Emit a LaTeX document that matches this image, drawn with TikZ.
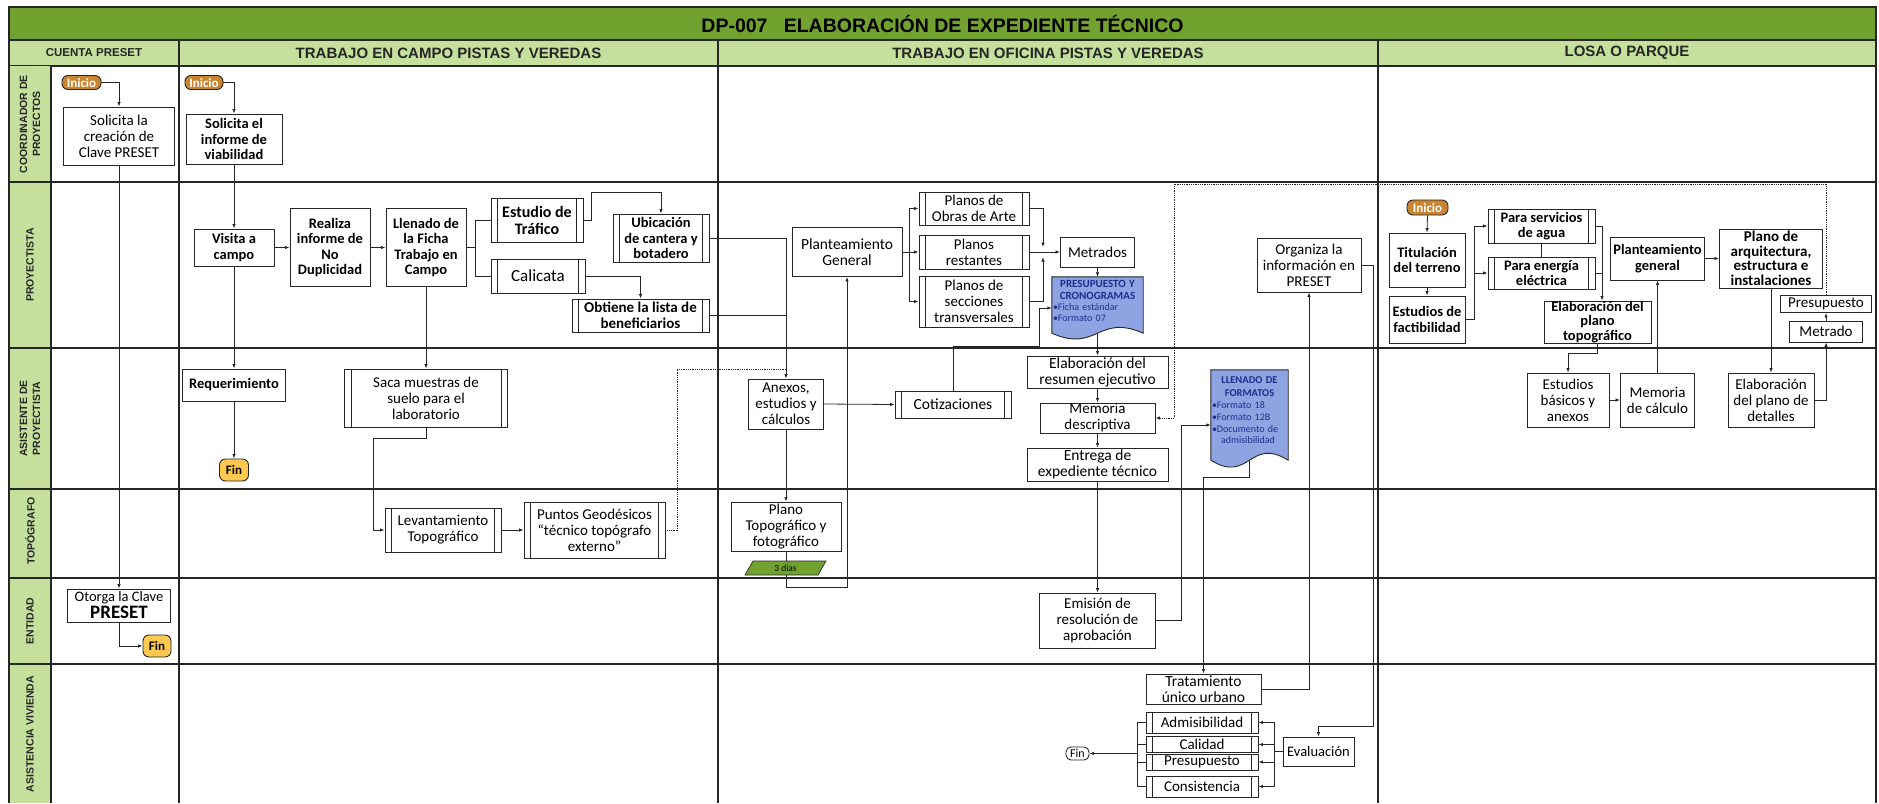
\documentclass[tikz,border=0pt]{standalone}
\usepackage{fontspec}
\setmainfont{Carlito}
\newfontfamily\hdfont{Liberation Sans}
\usetikzlibrary{arrows.meta,calc}
\newcommand\fsz[2]{\fontsize{#1}{#2}\selectfont}
\definecolor{titlegreen}{HTML}{71A22F}
\definecolor{headgreen}{HTML}{C4E09C}
\definecolor{startorange}{HTML}{C9852F}
\definecolor{endyellow}{HTML}{FFC94F}
\definecolor{docblue}{HTML}{8EA3E2}
\definecolor{docink}{HTML}{1F2E8C}
\definecolor{ink}{HTML}{262626}
\tikzset{
  box/.style={draw=ink, line width=0.9pt, fill=white, align=center, inner sep=0pt, text=black, font=\fsz{15}{16}},
  bbox/.style={box, font=\bfseries\fsz{14.5}{15.5}},
  sub/.style={box, path picture={
      \draw[ink, line width=0.8pt]
        ([xshift=6.5pt]path picture bounding box.north west) -- ([xshift=6.5pt]path picture bounding box.south west)
        ([xshift=-6.5pt]path picture bounding box.north east) -- ([xshift=-6.5pt]path picture bounding box.south east);}},
  pill/.style={draw=ink, line width=0.9pt, rounded corners=6pt, inner sep=0pt, font=\bfseries\fsz{13}{13}},
  startpill/.style={pill, fill=startorange, text=white},
  endpill/.style={pill, fill=endyellow, text=black},
  docnode/.style={inner sep=0pt, draw=none},
  doctext/.style={inner sep=0pt, text=docink, font=\fsz{10}{11}},
  arr/.style={draw=ink, line width=0.8pt, -{Latex[length=4.5pt,width=3.5pt]}},
  ln/.style={draw=ink, line width=0.8pt},
  lanelabel/.style={rotate=90, font=\hdfont\bfseries\fsz{10.5}{13}, align=center, text=ink},
  colhead/.style={font=\hdfont\bfseries\fsz{15}{16}, text=ink},
  gridline/.style={draw=ink, line width=1.3pt},
}
\begin{document}
\begin{tikzpicture}[x=1pt,y=-1pt]
\useasboundingbox (0,0) rectangle (1879,803);

% ---------- frame, title, column headers, lanes ----------
\filldraw[fill=titlegreen, draw=ink, line width=1.3pt] (9,7) rectangle (1876,40);
\node[font=\hdfont\bfseries\fsz{19.5}{20}, text=black] (title) at (942.5,23.5) {DP-007\ \ \ ELABORACIÓN DE EXPEDIENTE TÉCNICO};
\filldraw[fill=headgreen, draw=ink, line width=1.3pt] (9,40) rectangle (1876,66);
\fill[headgreen] (9,66) rectangle (51,803);

\foreach \yy in {182,348,489,578,664} \draw[gridline] (9,\yy) -- (1876,\yy);
\draw[gridline] (9,7) -- (9,803);
\draw[gridline] (1876,7) -- (1876,803);
\draw[gridline] (51,66) -- (51,803);
\foreach \xx in {179,718,1378} \draw[gridline] (\xx,40) -- (\xx,803);

\node[font=\hdfont\bfseries\fsz{11.5}{12}, text=ink] (hcuenta) at (94,53) {CUENTA PRESET};
\node[colhead] (hcampo) at (448.5,53) {TRABAJO EN CAMPO PISTAS Y VEREDAS};
\node[colhead] (hoficina) at (1048,53) {TRABAJO EN OFICINA PISTAS Y VEREDAS};
\node[colhead] (hlosa) at (1627,53) {LOSA O PARQUE};

\node[lanelabel] (lcoord) at (30,124) {COORDINADOR DE\\PROYECTOS};
\node[lanelabel] (lproy) at (30,265) {PROYECTISTA};
\node[lanelabel] (lasis) at (30,418.5) {ASISTENTE DE\\PROYECTISTA};
\node[lanelabel] (ltopo) at (30,531) {TOPÓGRAFO};
\node[lanelabel] (lent) at (30,621) {ENTIDAD};
\node[lanelabel] (lviv) at (30,734) {ASISTENCIA VIVIENDA};

% ---------- Coordinador de proyectos ----------
\node[startpill, minimum width=39, minimum height=14] (ini1) at (81.5,82.5) {Inicio};
\node[box, minimum width=111, minimum height=58] (sol1) at (119,136) {Solicita la\\creación de\\Clave PRESET};
\node[startpill, minimum width=38, minimum height=14] (ini2) at (204,82.5) {Inicio};
\node[bbox, minimum width=96, minimum height=50] (sol2) at (234,139) {Solicita el\\informe de\\viabilidad};

% ---------- Proyectista ----------
\node[bbox, minimum width=80, minimum height=37] (visita) at (234,247.5) {Visita a\\campo};
\node[bbox, minimum width=80, minimum height=78] (realiza) at (330,247.5) {Realiza\\informe de\\No\\Duplicidad};
\node[bbox, minimum width=80, minimum height=78] (llenado) at (426,247.5) {Llenado de\\la Ficha\\Trabajo en\\Campo};
\node[sub, font=\bfseries\fsz{16}{17}, minimum width=92, minimum height=44] (trafico) at (537,220) {Estudio de\\Tráfico};
\node[sub, font=\fsz{17}{18}, minimum width=94, minimum height=34] (calicata) at (538,276) {Calicata};
\node[sub, font=\bfseries\fsz{14.5}{15.5}, minimum width=96, minimum height=48] (ubic) at (661,238) {Ubicación\\de cantera y\\botadero};
\node[sub, font=\bfseries\fsz{15}{16}, minimum width=137, minimum height=33] (obtiene) at (640.5,315.5) {Obtiene la lista de\\beneficiarios};

\node[box, font=\fsz{15.5}{16.5}, minimum width=110, minimum height=49] (plant) at (847,252) {Planteamiento\\General};
\node[sub, minimum width=110, minimum height=33] (obras) at (974,208.5) {Planos de\\Obras de Arte};
\node[sub, minimum width=110, minimum height=34] (rest) at (974,252) {Planos\\restantes};
\node[sub, minimum width=110, minimum height=51] (secc) at (974,301.5) {Planos de\\secciones\\transversales};
\node[box, minimum width=74, minimum height=30] (metr) at (1097.5,252) {Metrados};
\node[docnode, minimum width=91, minimum height=56] (pres) at (1097.5,305) {};
\filldraw[fill=docblue, draw=ink, line width=0.9pt] (pres.north west) -- (pres.north east) -- (pres.south east)
   .. controls ($(pres.south)+(0,-20)$) and ($(pres.south)+(0,20)$) .. (pres.south west) -- cycle;
\node[doctext, anchor=north, text width=89] (prestext) at ([yshift=-3pt]pres.north)
   {{\centering\bfseries\fsz{11}{12.5}PRESUPUESTO Y\\CRONOGRAMAS\par}\raggedright\fsz{10}{10.5}•Ficha estándar\\•Formato 07};
\node[box, minimum width=104, minimum height=54] (org) at (1309,265) {Organiza la\\información en\\PRESET};

\node[startpill, minimum width=41, minimum height=15] (ini3) at (1427.5,207.5) {Inicio};
\node[bbox, minimum width=76, minimum height=54] (titu) at (1427,260) {Titulación\\del terreno};
\node[bbox, minimum width=76, minimum height=47] (fact) at (1427,319.5) {Estudios de\\factibilidad};
\node[sub, font=\bfseries\fsz{14.5}{15.5}, minimum width=107, minimum height=34] (agua) at (1541.5,226) {Para servicios\\de agua};
\node[sub, font=\bfseries\fsz{14.5}{15.5}, minimum width=107, minimum height=32] (energ) at (1541.5,273) {Para energía\\eléctrica};
\node[bbox, font=\bfseries\fsz{14.5}{14.5}, minimum width=107, minimum height=42] (elabtopo) at (1597.5,322) {Elaboración del\\plano\\topográfico};
\node[bbox, minimum width=94, minimum height=43] (plang) at (1657.5,258.5) {Planteamiento\\general};
\node[bbox, font=\bfseries\fsz{15}{14.5}, minimum width=103, minimum height=59] (arq) at (1771,258.5) {Plano de\\arquitectura,\\estructura e\\instalaciones};
\node[box, minimum width=91, minimum height=17] (presu) at (1826,304) {Presupuesto};
\node[box, minimum width=73, minimum height=21] (metrado) at (1826,331.5) {Metrado};

% ---------- Asistente de proyectista ----------
\node[bbox, minimum width=103, minimum height=32] (req) at (234,385) {Requerimiento};
\node[endpill, minimum width=29, minimum height=22] (fin1) at (234,470) {Fin};
\node[sub, minimum width=163, minimum height=58] (saca) at (426,398) {Saca muestras de\\suelo para el\\laboratorio};
\node[box, minimum width=75, minimum height=50] (anexos) at (786,404) {Anexos,\\estudios y\\cálculos};
\node[sub, font=\fsz{15.5}{16}, minimum width=116, minimum height=27] (cotiz) at (953,404.5) {Cotizaciones};
\node[box, font=\fsz{15.5}{16}, minimum width=141, minimum height=32] (resum) at (1097.5,372) {Elaboración del\\resumen ejecutivo};
\node[box, minimum width=115, minimum height=30] (memo) at (1097.5,418) {Memoria\\descriptiva};
\node[box, font=\fsz{15.5}{16}, minimum width=141, minimum height=33] (entrega) at (1097.5,464.5) {Entrega de\\expediente técnico};
\node[docnode, minimum width=77, minimum height=90] (llen) at (1249.5,415) {};
\filldraw[fill=docblue, draw=ink, line width=0.9pt] (llen.north west) -- (llen.north east) -- (llen.south east)
   .. controls ($(llen.south)+(0,-24)$) and ($(llen.south)+(0,24)$) .. (llen.south west) -- cycle;
\node[doctext, anchor=north, text width=75] (llentext) at ([yshift=-7pt]llen.north)
   {{\centering\bfseries\fsz{10.5}{12.5}LLENADO DE\\FORMATOS\par}\raggedright\fsz{10}{12}•Formato 18\\•Formato 12B\\•Documento de\\\hspace*{9pt}admisibilidad};
\node[box, minimum width=82, minimum height=54] (estb) at (1568,400) {Estudios\\básicos y\\anexos};
\node[box, minimum width=74, minimum height=54] (memc) at (1657.5,400) {Memoria\\de cálculo};
\node[box, minimum width=86, minimum height=54] (deta) at (1771,400) {Elaboración\\del plano de\\detalles};

% ---------- Topógrafo ----------
\node[sub, minimum width=116, minimum height=44] (levan) at (443,530) {Levantamiento\\Topográfico};
\node[sub, minimum width=141, minimum height=56] (puntos) at (594.5,530) {Puntos Geodésicos\\“técnico topógrafo\\externo”};
\node[box, minimum width=110, minimum height=49] (plano) at (786,526.5) {Plano\\Topográfico y\\fotográfico};

% ---------- Entidad ----------
\node[box, font=\fsz{14.5}{17}, minimum width=103, minimum height=33] (oto) at (119,605.5) {Otorga la Clave\\{\bfseries\fsz{19}{19}PRESET}};
\node[endpill, minimum width=28, minimum height=22] (fin2) at (157,646) {Fin};
\node[box, minimum width=116, minimum height=55] (emis) at (1097.5,620.5) {Emisión de\\resolución de\\aprobación};

% ---------- Asistencia vivienda ----------
\node[box, font=\fsz{15.5}{16}, minimum width=115, minimum height=30] (trat) at (1203.5,689) {Tratamiento\\único urbano};
\node[sub, font=\fsz{15}{15}, minimum width=112, minimum height=21] (adm) at (1202,722.5) {Admisibilidad};
\node[sub, font=\fsz{15}{15}, minimum width=112, minimum height=16] (cal) at (1202,744.5) {Calidad};
\node[sub, font=\fsz{15}{15}, minimum width=112, minimum height=16] (pre2) at (1202,762) {Presupuesto};
\node[sub, font=\fsz{15}{15}, minimum width=112, minimum height=21] (cons) at (1202,786.5) {Consistencia};
\node[box, font=\fsz{14.5}{15}, minimum width=71, minimum height=29] (eval) at (1318.5,751.5) {Evaluación};
\node[pill, fill=white, font=\fsz{12}{12}, rounded corners=5pt, minimum width=23, minimum height=13] (fin3) at (1077.5,753.5) {Fin};

% ---------- connectors ----------
\draw[arr] (ini1.east) -| (sol1.north);
\draw[arr] (ini2.east) -| (sol2.north);
\draw[arr] (sol1.south) -- (oto.north);
\draw[arr] (oto.south) |- (fin2.west);
\draw[arr] (sol2.south) -- (visita.north);
\draw[arr] (visita.south) -- (req.north);
\draw[arr] (req.south) -- (fin1.north);
\draw[arr] (visita.east) -- (realiza.west);
\draw[arr] (realiza.east) -- (llenado.west);
\coordinate (fork1) at (475,247.5);
\draw[ln] (llenado.east) -- (fork1) |- (trafico.west);
\draw[ln] (fork1) |- (calicata.west);
\draw[arr] (llenado.south) -- (saca.north);
\draw[arr] (trafico.east) -- (591,220) |- (661,192) -- (ubic.north);
\draw[arr] (calicata.east) -| (obtiene.north);
\draw[arr] (ubic.east) -| (anexos.north);
\draw[ln] (obtiene.east) -- (obtiene.east -| anexos.north);
\draw[arr] (saca.south) -- (426,438) -| (373,530) -- (levan.west);
\draw[arr] (levan.east) -- (puntos.west);
\draw[ln, densely dotted] (puntos.east) -| (677,369) -- (786,369);
\draw[arr] (anexos.east) -- (cotiz.west);
\draw[arr] (anexos.south) -- (plano.north);
\draw[arr] (plano.south) -- (786,587) -| (plant.south);
\coordinate (fork2) at (909,252);
\draw[ln] (plant.east) -- (fork2);
\draw[arr] (fork2) |- (obras.west);
\draw[arr] (fork2) -- (rest.west);
\draw[arr] (fork2) |- (secc.west);
\draw[arr] (obras.east) -| (1043,247);
\draw[arr] (secc.east) -| (1043,257);
\draw[arr] (rest.east) -- (metr.west);
\draw[arr] (metr.south) -- (pres.north);
\draw[arr] (cotiz.north) |- (1039,346) |- ([yshift=-3pt]pres.west);
\draw[arr] (pres.south) -- (resum.north);
\draw[arr] (resum.south) -- (memo.north);
\draw[arr] (memo.south) -- (entrega.north);
\draw[arr] (entrega.south) -- (emis.north);
\draw[arr] (emis.east) -| (1181,425) -- ([yshift=-10pt]llen.west);
\draw[arr] (llen.south) -- (1249.5,477) -| (trat.north);
\draw[arr] (trat.east) -| (org.south);
\draw[arr] (org.east) -| (1373,726) -| (eval.north);
\coordinate (bus1) at (1274,751.5);
\draw[ln] (eval.west) -- (bus1);
\foreach \n in {adm,cal,pre2,cons} \draw[arr] (bus1) |- (\n.east);
\coordinate (bus2) at (1137,753.5);
\foreach \n in {adm,cal,pre2,cons} \draw[ln] (\n.west) -| (bus2);
\draw[arr, line width=1.6pt] (bus2) -- (fin3.east);

\draw[arr] (ini3.south) -- (titu.north);
\draw[arr] (titu.south) -- (fact.north);
\coordinate (fork3) at (1474,319.5);
\draw[ln] (fact.east) -- (fork3);
\draw[arr] (fork3) |- (agua.west);
\draw[arr] (fork3) |- (energ.west);
\draw[ln] (agua.south) -- (energ.north);
\draw[arr] (agua.east) -| ([xshift=4.5pt]elabtopo.north);
\draw[ln] (energ.east) -- (1602,273);
\draw[arr] (elabtopo.south) -- ++(0,10) -| (estb.north);
\draw[arr] (estb.east) -- (memc.west);
\draw[arr] (memc.north) -- (plang.south);
\draw[arr] (plang.east) -- (arq.west);
\draw[arr] (arq.south) -- (deta.north);
\draw[arr] (deta.east) -| (metrado.south);
\draw[arr] (metrado.north) -- (presu.south);
\draw[arr, densely dotted] (presu.north) |- (1174,184) |- (memo.east);

% ---------- duration tag on top of the connector ----------
\filldraw[fill=titlegreen, draw=ink, line width=0.7pt] (753,561) -- (826,561) -- (818,575) -- (745,575) -- cycle;
\node[font=\fsz{9.5}{10}, inner sep=0pt] (dias) at (785.5,568) {3 días};
\end{tikzpicture}
\end{document}
